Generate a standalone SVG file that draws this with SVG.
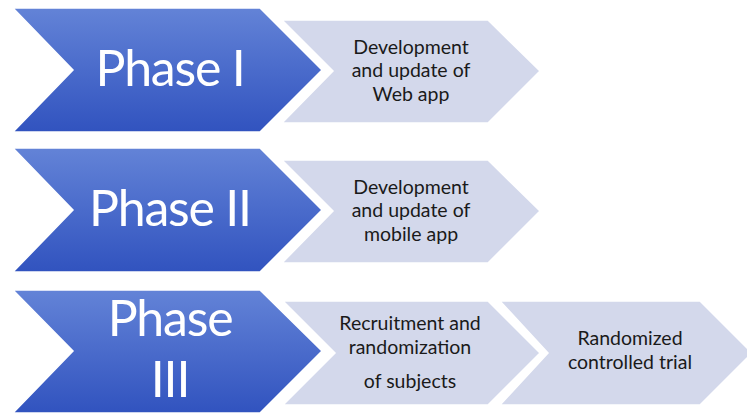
<svg xmlns="http://www.w3.org/2000/svg" width="747" height="414" viewBox="0 0 747 414">
<defs>
<linearGradient id="bg" x1="0" y1="0" x2="0" y2="1">
<stop offset="0" stop-color="#6383d7"/>
<stop offset="1" stop-color="#3153bf"/>
</linearGradient>
<style>
.blue{fill:url(#bg);stroke:#ffffff;stroke-width:1.5}
.light{fill:#d3d8eb;stroke:#ffffff;stroke-width:1.5}
.ph{font-family:Lato,"Liberation Sans",sans-serif;font-size:50px;letter-spacing:-1.2px;fill:#ffffff;text-anchor:middle}
.tx{font-family:Lato,"Liberation Sans",sans-serif;font-size:19.5px;fill:#1a1a1a;text-anchor:middle}
</style>
</defs>
<rect width="747" height="414" fill="#ffffff"/>
<g id="phase1">
<polygon class="blue" points="13,8 260,8 322,70 260,132 13,132 73,70"/>
<text class="ph" x="170" y="86">Phase I</text>
</g>
<g id="step1">
<polygon class="light" points="282,20 488,20 540,71 488,123 282,123 333,71"/>
<text class="tx"><tspan x="411" y="54">Development</tspan><tspan x="411" y="77">and update of</tspan><tspan x="411" y="101">Web app</tspan></text>
</g>
<g id="phase2">
<polygon class="blue" points="13,148 260,148 322,210 260,272 13,272 73,210"/>
<text class="ph" x="170" y="226">Phase II</text>
</g>
<g id="step2">
<polygon class="light" points="282,160 488,160 540,211 488,263 282,263 333,211"/>
<text class="tx"><tspan x="411" y="194">Development</tspan><tspan x="411" y="217">and update of</tspan><tspan x="411" y="241">mobile app</tspan></text>
</g>
<g id="phase3">
<polygon class="blue" points="13,290 260,290 322,351 260,413 13,413 73,351"/>
<text class="ph"><tspan x="170" y="336">Phase</tspan><tspan x="170" y="397">III</tspan></text>
</g>
<g id="step3">
<polygon class="light" points="283,301 488,301 540,353 488,405 283,405 335,353"/>
<text class="tx"><tspan x="410" y="330">Recruitment and</tspan><tspan x="410" y="354">randomization</tspan><tspan x="410" y="388">of subjects</tspan></text>
</g>
<g id="step4">
<polygon class="light" points="500,301 700,301 752,353 700,405 500,405 548,353"/>
<text class="tx"><tspan x="630" y="345">Randomized</tspan><tspan x="630" y="369">controlled trial</tspan></text>
</g>
<g id="connectors"></g>
</svg>
